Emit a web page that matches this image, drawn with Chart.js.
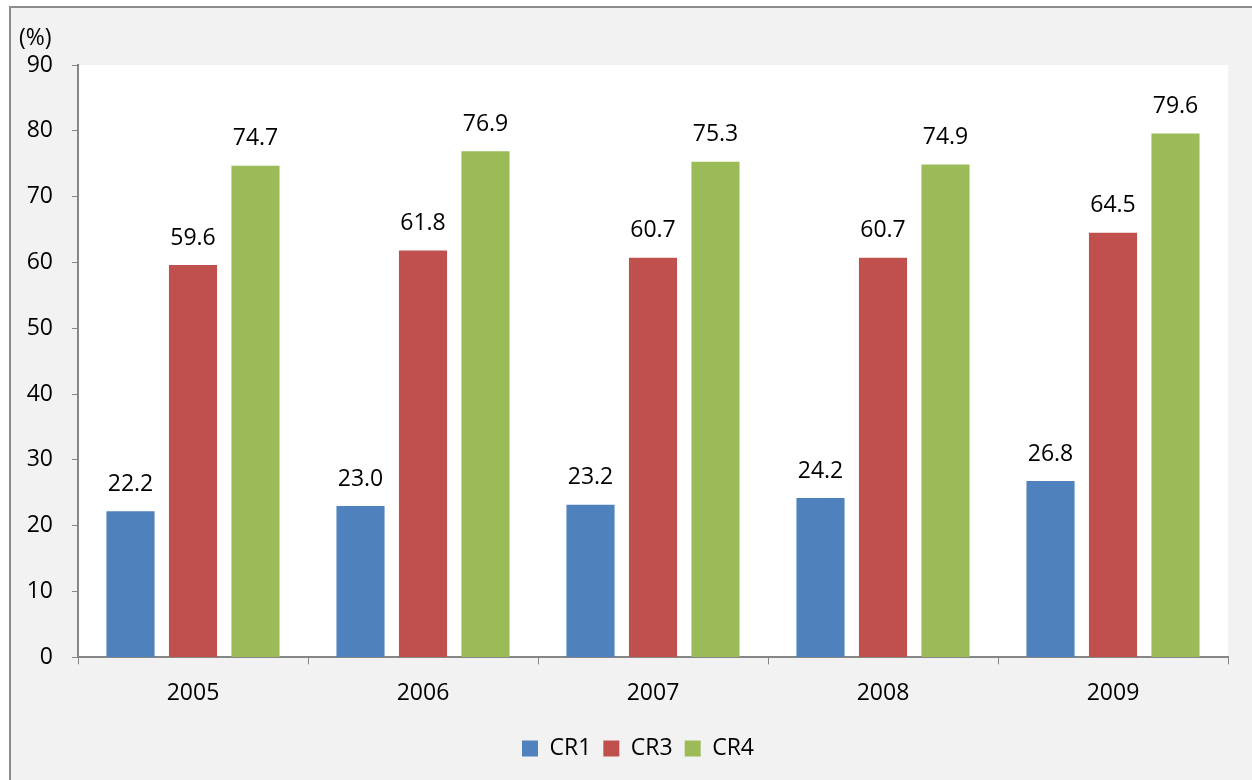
<!DOCTYPE html>
<html lang="en">
<head>
<meta charset="UTF-8">
<title>CR1 / CR3 / CR4 2005-2009</title>
<script src="https://cdn.jsdelivr.net/npm/chart.js"></script>
<style>
    html, body { margin: 0; padding: 0; background: #ffffff; overflow: hidden; }
    #frame {
        position: absolute; left: 9px; top: 6px;
        width: 1300px; height: 820px;
        background: #f2f2f2;
        border: 2px solid #8c8c8c;
    }
    #wrap { position: absolute; left: 0; top: 0; width: 1252px; height: 780px; }
</style>
</head>
<body>
<div id="frame"></div>
<div id="wrap"><canvas id="crChart" width="1252" height="780"></canvas></div>

<script>
    // values
    const years = ['2005', '2006', '2007', '2008', '2009'];
    const cr1 = [22.2, 23.0, 23.2, 24.2, 26.8];
    const cr3 = [59.6, 61.8, 60.7, 60.7, 64.5];
    const cr4 = [74.7, 76.9, 75.3, 74.9, 79.6];
    const seriesNames = ['CR1', 'CR3', 'CR4'];
    const seriesColors = ['#4f81bd', '#c0504d', '#9bbb59'];

    const fontFamily = '"Open Sans", "DejaVu Sans", sans-serif';
    const axisGray = '#868686';

    // white plot area, like the excel chart
    let plotBg = {
        id: 'plotBg',
        afterLayout: function(chart) {
            // legend sits centred under the plot area, not the whole canvas
            chart.legend.left += 24;
            chart.legend.right += 24;
        },
        beforeDraw: function(chart) {
            let a = chart.chartArea;
            let c = chart.ctx;
            c.save();
            c.fillStyle = '#ffffff';
            c.fillRect(a.left, a.top, a.right - a.left, a.bottom - a.top);
            c.restore();
        }
    };

    // numbers above every bar + the (%) unit
    let barLabels = {
        id: 'barLabels',
        afterDatasetsDraw: function(chart) {
            let c = chart.ctx;
            c.save();
            c.fillStyle = '#000000';
            c.font = '23px ' + fontFamily;
            c.textAlign = 'center';
            c.textBaseline = 'middle';
            chart.data.datasets.forEach((ds, i) => {
                chart.getDatasetMeta(i).data.forEach((bar, j) => {
                    c.fillText(ds.data[j].toFixed(1), bar.x, bar.y - 27);
                });
            });
            c.textAlign = 'left';
            c.fillText('(%)', 19, 38);
            c.restore();
        }
    };

    let datasets = [cr1, cr3, cr4].map((vals, i) => ({
        label: seriesNames[i],
        data: vals,
        backgroundColor: seriesColors[i],
        borderWidth: 0,
        categoryPercentage: 0.815,
        barPercentage: 0.77
    }));

    let chart = new Chart(document.getElementById('crChart').getContext('2d'), {
        type: 'bar',
        data: { labels: years, datasets: datasets },
        options: {
            responsive: false,
            animation: false,
            devicePixelRatio: 1,
            layout: { padding: { left: 0, right: 24, top: 65, bottom: 10 } },
            plugins: {
                legend: {
                    position: 'bottom',
                    labels: {
                        boxWidth: 16,
                        boxHeight: 16,
                        padding: 12,
                        color: '#000000',
                        font: { family: fontFamily, size: 23 }
                    }
                },
                tooltip: { enabled: false }
            },
            scales: {
                x: {
                    afterFit: function(scale) { scale.height += 3; },
                    grid: {
                        offset: true,
                        drawOnChartArea: false,
                        tickLength: 7,
                        color: axisGray
                    },
                    border: { color: axisGray, width: 2 },
                    ticks: {
                        color: '#000000',
                        padding: 15,
                        font: { family: fontFamily, size: 23 }
                    }
                },
                y: {
                    min: 0,
                    max: 90,
                    afterFit: function(scale) { scale.width = 78; },
                    grid: {
                        drawOnChartArea: false,
                        tickLength: 6,
                        color: axisGray
                    },
                    border: { color: axisGray, width: 2 },
                    ticks: {
                        stepSize: 10,
                        color: '#000000',
                        padding: 19,
                        font: { family: fontFamily, size: 23 }
                    }
                }
            }
        },
        plugins: [plotBg, barLabels]
    });
</script>
</body>
</html>
